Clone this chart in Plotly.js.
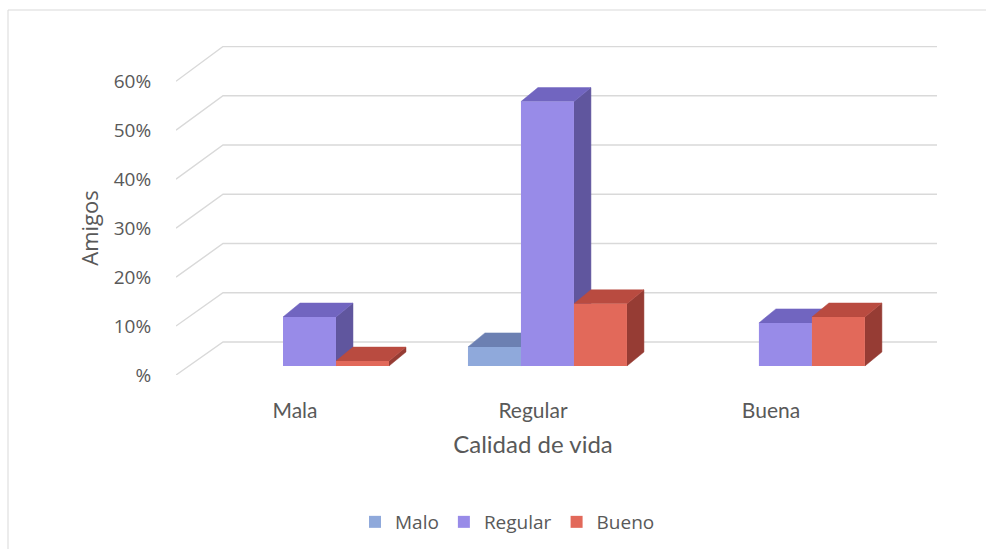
<!DOCTYPE html>
<html><head><meta charset="utf-8">
<script src="https://cdn.plot.ly/plotly-3.0.1.min.js"></script>
<style>html,body{margin:0;padding:0;background:#fff;}#chart{width:986px;height:549px;}</style>
</head><body><div id="chart"></div>
<script>
// ---- data ----
const categories = ['Mala', 'Regular', 'Buena'];
const seriesNames = ['Malo', 'Regular', 'Bueno'];
const maloValues = [0, 0.039, 0];
const regularValues = [0.100, 0.540, 0.088];
const buenoValues = [0.010, 0.127, 0.100];
const tickValues = [0, 0.1, 0.2, 0.3, 0.4, 0.5, 0.6];
const tickLabels = ['%', '10%', '20%', '30%', '40%', '50%', '60%'];

// ---- style ----
const frontColors = ['#8fa9db', '#988be8', '#e2695a'];
const topColors = ['#6c80b2', '#7165c0', '#b94b40'];
const sideColors = ['#5d6f9c', '#60569e', '#963c34'];
const textColor = '#595959';
const gridColor = '#d9d9d9';

const L = 176, R = 49, T = 46, B = 174, W = 986, H = 549;
const xr = [-0.561, 2.637];
const yr = [0, 0.672];
const barW = 0.2227;          // width of one bar in category units
const baseV = 0.0184;         // floor offset of the bar row
const bdx = 0.0714, bdy = 0.0286;  // depth of a bar
const wallDx = 0.1976, wallDy = 0.0673, wallScale = 1.006; // back wall

const series = [maloValues, regularValues, buenoValues];
const traces = [];

// gridlines: left wall diagonal + back wall horizontal
tickValues.forEach(t => {
  const bv = wallDy + t * wallScale;
  traces.push({
    type: 'scatter', mode: 'lines', x: [xr[0], xr[0] + wallDx, xr[1]], y: [t, bv, bv],
    line: {color: gridColor, width: 1.4}, showlegend: false, hoverinfo: 'skip', xaxis: 'x', yaxis: 'y'
  });
});

// 3D side and top faces
categories.forEach((c, j) => {
  series.forEach((vals, i) => {
    const v = vals[j];
    if (!(v > 0)) return;
    const cx = j + (i - 1) * barW;
    const x0 = cx - barW / 2, x1 = cx + barW / 2;
    const top = baseV + v;
    traces.push({
      type: 'scatter', mode: 'lines', fill: 'toself', fillcolor: sideColors[i],
      x: [x1, x1 + bdx, x1 + bdx, x1, x1], y: [baseV, baseV + bdy, top + bdy, top, baseV],
      line: {color: sideColors[i], width: 0.5}, showlegend: false, hoverinfo: 'skip', xaxis: 'x', yaxis: 'y'
    });
    traces.push({
      type: 'scatter', mode: 'lines', fill: 'toself', fillcolor: topColors[i],
      x: [x0, x0 + bdx, x1 + bdx, x1, x0], y: [top, top + bdy, top + bdy, top, top],
      line: {color: topColors[i], width: 0.5}, showlegend: false, hoverinfo: 'skip', xaxis: 'x', yaxis: 'y'
    });
  });
});

// front faces as real bars on an overlaid axis pair (drawn above the faces)
series.forEach((vals, i) => {
  traces.push({
    type: 'bar', name: seriesNames[i], x: [0, 1, 2], y: vals, base: baseV,
    marker: {color: frontColors[i], line: {width: 0}},
    xaxis: 'x2', yaxis: 'y2', hoverinfo: 'skip'
  });
});

// category labels / axis titles axis pair
traces.push({type: 'scatter', mode: 'markers', x: categories, y: [null, null, null],
  xaxis: 'x3', yaxis: 'y3', showlegend: false, hoverinfo: 'skip'});

const plotW = W - L - R, plotH = H - T - B;
const layout = {
  width: W, height: H,
  margin: {l: L, r: R, t: T, b: B, autoexpand: false},
  paper_bgcolor: '#ffffff', plot_bgcolor: 'rgba(0,0,0,0)',
  showlegend: true,
  barmode: 'group', bargap: 1 - 3 * barW, bargroupgap: 0,
  hovermode: false,
  xaxis: {range: xr, showticklabels: false, showgrid: false, zeroline: false, showline: false, ticks: '', fixedrange: true},
  yaxis: {range: yr, tickvals: tickValues, ticktext: tickLabels, ticks: 'outside', ticklen: 20,
    tickcolor: 'rgba(0,0,0,0)', showgrid: false, zeroline: false, showline: false,
    tickfont: {family: 'Open Sans', size: 19, color: textColor}, fixedrange: true},
  xaxis2: {overlaying: 'x', range: xr, visible: false, fixedrange: true},
  yaxis2: {overlaying: 'y', range: yr, visible: false, fixedrange: true},
  xaxis3: {domain: [0, 714 / plotW], anchor: 'free', position: 0, type: 'category', range: [-0.5, 2.5],
    ticks: 'outside', ticklen: 17, tickcolor: 'rgba(0,0,0,0)', showgrid: false, zeroline: false, showline: false,
    tickfont: {family: 'Lato', size: 21, color: textColor},
    title: {text: 'Calidad de vida', font: {family: 'Lato', size: 24, color: textColor}, standoff: 14}},
  yaxis3: {domain: [0, (375 - 81) / plotH], anchor: 'free', position: 0, range: [0, 1],
    showticklabels: false, ticks: '', showgrid: false, zeroline: false, showline: false,
    title: {text: 'Amigos', font: {family: 'Open Sans', size: 22, color: textColor}, standoff: 70}},
  legend: {orientation: 'h', x: (507.5 - L) / plotW, y: (375 - 522) / plotH, xanchor: 'center', yanchor: 'middle',
    font: {family: 'Open Sans', size: 19, color: textColor}, traceorder: 'normal', bgcolor: 'rgba(0,0,0,0)'},
  shapes: [{type: 'rect', xref: 'paper', yref: 'paper',
    x0: (8 - L) / plotW, x1: (992 - L) / plotW, y0: (375 - 555) / plotH, y1: (375 - 10) / plotH,
    line: {color: '#d9d9d9', width: 1}, fillcolor: 'rgba(0,0,0,0)', layer: 'below'}]
};

Plotly.newPlot('chart', traces, layout, {staticPlot: true, displayModeBar: false});
</script>
</body></html>
